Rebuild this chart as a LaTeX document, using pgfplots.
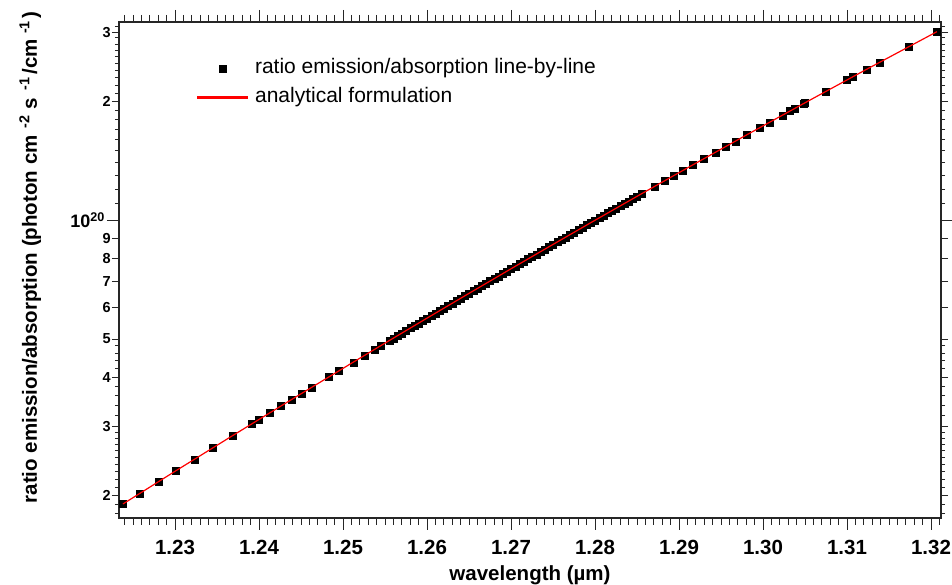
\documentclass[border=0pt]{standalone}
\usepackage{fontspec}
\setmainfont{Liberation Sans}
\usepackage{pgfplots}
\pgfplotsset{compat=1.18}
\usepackage{pgfplotstable}

\pgfplotsset{
  mylegimg/.style={legend image code/.code={\draw[mark repeat=2,mark phase=2,##1] plot coordinates {(0bp,0bp)(25bp,0bp)(50bp,0bp)};}},
  mylegline/.style={legend image code/.code={\fill[red] (0bp,-0.6bp) rectangle (50bp,0.6bp);}}
}

\pgfplotstableread{
lam val
1.2238 1.908e19
1.2258 2.029e19
1.2280 2.171e19
1.2301 2.316e19
1.2323 2.476e19
1.2345 2.648e19
1.2368 2.839e19
1.2391 3.043e19
1.2400 3.126e19
1.2413 3.251e19
1.2426 3.380e19
1.2439 3.514e19
1.2451 3.642e19
1.2463 3.775e19
1.2483 4.006e19
1.2495 4.151e19
1.2512 4.365e19
1.2526 4.549e19
1.2537 4.698e19
1.2545 4.810e19
1.2555 4.953e19
1.2560 5.026e19
1.2565 5.100e19
1.2570 5.175e19
1.2575 5.251e19
1.2580 5.329e19
1.2585 5.407e19
1.2590 5.486e19
1.2595 5.567e19
1.2600 5.648e19
1.2605 5.731e19
1.2610 5.815e19
1.2615 5.900e19
1.2620 5.986e19
1.2625 6.073e19
1.2630 6.162e19
1.2635 6.251e19
1.2640 6.342e19
1.2645 6.434e19
1.2650 6.528e19
1.2655 6.623e19
1.2660 6.719e19
1.2665 6.816e19
1.2670 6.915e19
1.2675 7.015e19
1.2680 7.116e19
1.2685 7.219e19
1.2690 7.323e19
1.2695 7.428e19
1.2700 7.535e19
1.2705 7.644e19
1.2710 7.754e19
1.2715 7.865e19
1.2720 7.978e19
1.2725 8.092e19
1.2730 8.208e19
1.2735 8.325e19
1.2740 8.444e19
1.2745 8.565e19
1.2750 8.687e19
1.2755 8.811e19
1.2760 8.937e19
1.2765 9.064e19
1.2770 9.193e19
1.2775 9.323e19
1.2780 9.456e19
1.2785 9.590e19
1.2790 9.726e19
1.2795 9.863e19
1.2800 1.0003e20
1.2805 1.0144e20
1.2810 1.0287e20
1.2815 1.0432e20
1.2820 1.0579e20
1.2825 1.0728e20
1.2830 1.0879e20
1.2835 1.1032e20
1.2840 1.1187e20
1.2845 1.1344e20
1.2850 1.1503e20
1.2855 1.1664e20
1.2871 1.2194e20
1.2883 1.2606e20
1.2893 1.2959e20
1.2904 1.3358e20
1.2916 1.3807e20
1.2929 1.4309e20
1.2943 1.4868e20
1.2955 1.5364e20
1.2967 1.5875e20
1.2981 1.6491e20
1.2996 1.7176e20
1.3008 1.7743e20
1.3023 1.8476e20
1.3032 1.8930e20
1.3038 1.9238e20
1.3048 1.9762e20
1.3050 1.9868e20
1.3074 2.1186e20
1.3100 2.2706e20
1.3107 2.3132e20
1.3123 2.4134e20
1.3139 2.5176e20
1.3173 2.7530e20
1.3207 3.0088e20
}\ratiodata

\pgfplotstableread{
lam val
1.2238 1.908e19
1.2301 2.316e19
1.2368 2.839e19
1.2439 3.514e19
1.2512 4.365e19
1.2555 4.953e19
1.2600 5.648e19
1.2650 6.528e19
1.2700 7.535e19
1.2750 8.687e19
1.2800 1.0003e20
1.2855 1.1664e20
1.2916 1.3807e20
1.2981 1.6491e20
1.3050 1.9868e20
1.3123 2.4134e20
1.3207 3.0088e20
}\analytic

\begin{document}
\begin{tikzpicture}
\useasboundingbox (-119bp,-67bp) rectangle (833bp,518bp);
\begin{axis}[
  at={(0,0)}, anchor=south west,
  scale only axis, width=822bp, height=496bp,
  ymode=log,
  clip marker paths=true,
  xmin=1.22333, xmax=1.32119, ymin=1.759e19, ymax=3.186e20,
  axis line style={line width=1.4bp, black!85},
  tick style={black!85, line width=1bp},
  tick align=outside,
  xtick pos=both, ytick pos=both,
  xticklabel pos=lower, yticklabel pos=left,
  major tick length=12bp, minor tick length=4bp,
  xtick={1.23,1.24,1.25,1.26,1.27,1.28,1.29,1.30,1.31,1.32},
  xticklabel={\pgfmathprintnumber[fixed,fixed zerofill,precision=2,assume math mode=true]{\tick}},
  xticklabel style={font=\fontsize{20.5bp}{24bp}\selectfont\bfseries, yshift=-7bp},
  minor x tick num=0,
  extra x ticks={1.224,1.225,1.226,1.227,1.228,1.229,1.231,1.232,1.233,1.234,1.235,1.236,1.237,1.238,1.239,1.241,1.242,1.243,1.244,1.245,1.246,1.247,1.248,1.249,1.251,1.252,1.253,1.254,1.255,1.256,1.257,1.258,1.259,1.261,1.262,1.263,1.264,1.265,1.266,1.267,1.268,1.269,1.271,1.272,1.273,1.274,1.275,1.276,1.277,1.278,1.279,1.281,1.282,1.283,1.284,1.285,1.286,1.287,1.288,1.289,1.291,1.292,1.293,1.294,1.295,1.296,1.297,1.298,1.299,1.301,1.302,1.303,1.304,1.305,1.306,1.307,1.308,1.309,1.311,1.312,1.313,1.314,1.315,1.316,1.317,1.318,1.319,1.321},
  extra x tick style={major tick length=7bp, xticklabel={}},
  ytick={1e20},
  yticklabels={{\fontsize{18bp}{20bp}\selectfont\bfseries 10\textsuperscript{20}}},
  yticklabel style={font=\bfseries, inner xsep=2bp},
  extra y ticks={2e19,3e19,4e19,5e19,6e19,7e19,8e19,9e19,2e20,3e20},
  extra y tick labels={2,3,4,5,6,7,8,9,2,3},
  extra y tick style={major tick length=7bp, yticklabel style={font=\fontsize{14.5bp}{16bp}\selectfont\bfseries, inner xsep=1bp}},
  minor ytick={1.8e19,1.9e19,2.1e19,2.2e19,2.3e19,2.4e19,2.5e19,2.6e19,2.7e19,2.8e19,2.9e19,3.2e19,3.4e19,3.6e19,3.8e19,4.2e19,4.4e19,4.6e19,4.8e19,1.1e20,1.2e20,1.3e20,1.4e20,1.5e20,1.6e20,1.7e20,1.8e20,1.9e20,2.1e20,2.2e20,2.3e20,2.4e20,2.5e20,2.6e20,2.7e20,2.8e20,2.9e20,3.1e20},
  xlabel={wavelength (µm)},
  every axis x label/.style={at={(axis description cs:0.5,-0.115)}, anchor=center, font=\fontsize{20.5bp}{24bp}\selectfont\bfseries},
  ylabel={ratio emission/absorption (photon cm\hspace{0.35em}\textsuperscript{-2} s\hspace{0.35em}\textsuperscript{-1}\hspace{0.15em}/cm\hspace{0.25em}\textsuperscript{-1}\hspace{0.1em})},
  every axis y label/.style={at={(axis description cs:-0.108,0.525)}, rotate=90, anchor=center, font=\fontsize{20.5bp}{24bp}\selectfont\bfseries},
  legend style={at={(axis description cs:0.0945,0.877)}, anchor=west, draw=none, fill=none, inner sep=0pt, row sep=9bp,
    font=\fontsize{21bp}{24bp}\selectfont,
    nodes={inner xsep=7bp, inner ysep=0pt, text height=15bp, text depth=5bp}},
  legend cell align=left,
]
\addplot[only marks, mark=square*, mark size=3.5bp, mark options={draw=black, fill=black, line width=0.2bp}, mylegimg]
  table[x=lam, y=val] {\ratiodata};
\addlegendentry{ratio emission/absorption line-by-line}
\addplot[red, line width=1.2bp, no marks, mylegline]
  table[x=lam, y=val] {\analytic};
\addlegendentry{analytical formulation}
\end{axis}
\end{tikzpicture}
\end{document}
